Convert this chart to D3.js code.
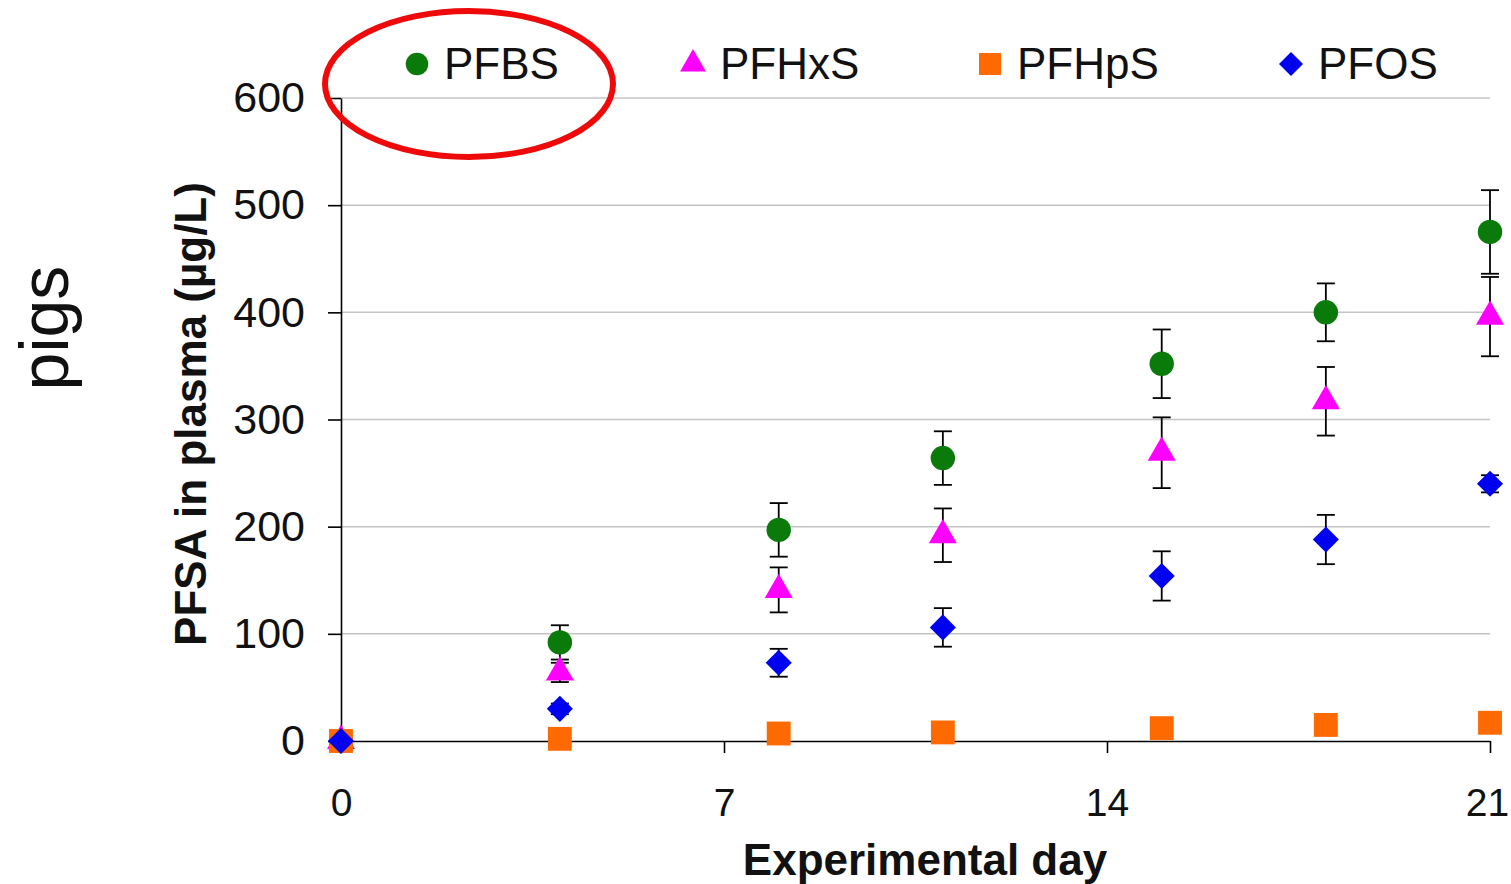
<!DOCTYPE html>
<html>
<head>
<meta charset="utf-8">
<script src="https://cdn.jsdelivr.net/npm/d3@7"></script>
<style>
  body { margin: 0; background: #fff; }
  text { font-family: "Liberation Sans", Arial, sans-serif; fill: #111; }
</style>
</head>
<body>
<script>
// data
var days = [0, 4, 8, 11, 15, 18, 21]
var seriesNames = ["PFBS", "PFHxS", "PFHpS", "PFOS"]
var pfbs     = [0, 92, 197, 264, 352, 400, 475]
var pfbsErr  = [0, 16, 25, 25, 32, 27, 39]
var pfhxs    = [0, 64, 141, 192, 269, 317, 396]
var pfhxsErr = [0, 9, 21, 25, 33, 32, 37]
var pfhps    = [0, 2, 7, 8, 12, 15, 17]
var pfhpsErr = [0, 1, 1, 1, 2, 2, 2]
var pfos     = [0, 30, 73, 106, 154, 188, 240]
var pfosErr  = [0, 5, 13, 18, 23, 23, 8]
var xTicks = [0, 7, 14, 21]
var yTicks = [0, 100, 200, 300, 400, 500, 600]

var width = 1511, height = 884

var svg = d3.select("body").append("svg")
    .attr("width", width)
    .attr("height", height)

var x = d3.scaleLinear().domain([0, 21]).range([341, 1490])
var y = d3.scaleLinear().domain([0, 600]).range([741, 98])

var colors = { PFBS: "#0a7a0a", PFHxS: "#ff00ff", PFHpS: "#ff6a00", PFOS: "#0000f0" }
var shapes = {
  PFBS:  { type: d3.symbolCircle, size: 470, rot: 0 },
  PFHxS: { type: d3.symbolTriangle, size: 340, rot: 0 },
  PFHpS: { type: d3.symbolSquare, size: 570, rot: 0 },
  PFOS:  { type: d3.symbolSquare, size: 340, rot: 45 }
}

var series = [
  { name: "PFBS",  vals: pfbs,  err: pfbsErr },
  { name: "PFHxS", vals: pfhxs, err: pfhxsErr },
  { name: "PFHpS", vals: pfhps, err: pfhpsErr },
  { name: "PFOS",  vals: pfos,  err: pfosErr }
]

// gridlines
svg.append("g").selectAll("line")
    .data(yTicks.filter(function(d) { return d > 0 }))
  .enter().append("line")
    .attr("x1", x(0)).attr("x2", x(21))
    .attr("y1", function(d) { return y(d) })
    .attr("y2", function(d) { return y(d) })
    .attr("stroke", "#c4c4c4")
    .attr("stroke-width", 1.5)

// axes
var yAxis = svg.append("g")
    .attr("transform", "translate(" + x(0) + ",0)")
    .call(d3.axisLeft(y).tickValues(yTicks).tickSize(13).tickSizeOuter(0).tickPadding(23))
yAxis.selectAll("text").style("font-size", "43px").attr("fill", "#1a1a1a")

var xAxis = svg.append("g")
    .attr("transform", "translate(0," + y(0) + ")")
    .call(d3.axisBottom(x).tickValues(xTicks).tickSize(12).tickSizeOuter(0).tickPadding(35))
xAxis.selectAll("text").style("font-size", "39px").attr("fill", "#1a1a1a")
xAxis.selectAll(".tick line").filter(function(d) { return d === 0 }).remove()
xAxis.selectAll(".tick text").filter(function(d) { return d === 21 }).attr("dx", "-3")

svg.selectAll(".domain, .tick line").attr("stroke", "#000").attr("stroke-width", 1.6)

// axis titles
svg.append("text")
    .attr("x", 925).attr("y", 875)
    .attr("text-anchor", "middle")
    .style("font-size", "44px").style("font-weight", "bold")
    .text("Experimental day")

svg.append("text")
    .attr("transform", "translate(206,414) rotate(-90)")
    .attr("text-anchor", "middle")
    .style("font-size", "44px").style("font-weight", "bold")
    .text("PFSA in plasma (µg/L)")

svg.append("text")
    .attr("transform", "translate(68,328) rotate(-90)")
    .attr("text-anchor", "middle")
    .style("font-size", "68px")
    .text("pigs")

// error bars then markers
var pts = []
series.forEach(function(s) {
  days.forEach(function(d, i) {
    pts.push({ name: s.name, day: d, v: s.vals[i], e: s.err[i] })
  })
})

var eb = svg.append("g").selectAll("g")
    .data(pts.filter(function(p) { return p.e > 0 }))
  .enter().append("g")
    .attr("stroke", "#000").attr("stroke-width", 1.8)
eb.append("line")
    .attr("x1", function(p) { return x(p.day) }).attr("x2", function(p) { return x(p.day) })
    .attr("y1", function(p) { return y(p.v + p.e) }).attr("y2", function(p) { return y(p.v - p.e) })
eb.append("line")
    .attr("x1", function(p) { return x(p.day) - 9 }).attr("x2", function(p) { return x(p.day) + 9 })
    .attr("y1", function(p) { return y(p.v + p.e) }).attr("y2", function(p) { return y(p.v + p.e) })
eb.append("line")
    .attr("x1", function(p) { return x(p.day) - 9 }).attr("x2", function(p) { return x(p.day) + 9 })
    .attr("y1", function(p) { return y(p.v - p.e) }).attr("y2", function(p) { return y(p.v - p.e) })

function sym(name, scale) {
  var sh = shapes[name]
  return d3.symbol().type(sh.type).size(sh.size * (scale || 1))()
}

svg.append("g").selectAll("path")
    .data(pts)
  .enter().append("path")
    .attr("d", function(p) { return sym(p.name) })
    .attr("transform", function(p) {
      return "translate(" + x(p.day) + "," + y(p.v) + ") rotate(" + shapes[p.name].rot + ")"
    })
    .attr("fill", function(p) { return colors[p.name] })

// legend
var legendX = [417, 693, 990, 1291]
var leg = svg.append("g").selectAll("g")
    .data(seriesNames)
  .enter().append("g")
    .attr("transform", function(d, i) { return "translate(" + legendX[i] + ",64)" })
leg.append("path")
    .attr("d", function(d) { return sym(d, 0.85) })
    .attr("transform", function(d) { return "rotate(" + shapes[d].rot + ")" })
    .attr("fill", function(d) { return colors[d] })
leg.append("text")
    .attr("x", 27).attr("y", 15)
    .style("font-size", "44px")
    .text(function(d) { return d })

// red annotation ellipse
svg.append("ellipse")
    .attr("cx", 469).attr("cy", 84)
    .attr("rx", 144).attr("ry", 73)
    .attr("fill", "none")
    .attr("stroke", "#ee0a0a")
    .attr("stroke-width", 6)
</script>
</body>
</html>
